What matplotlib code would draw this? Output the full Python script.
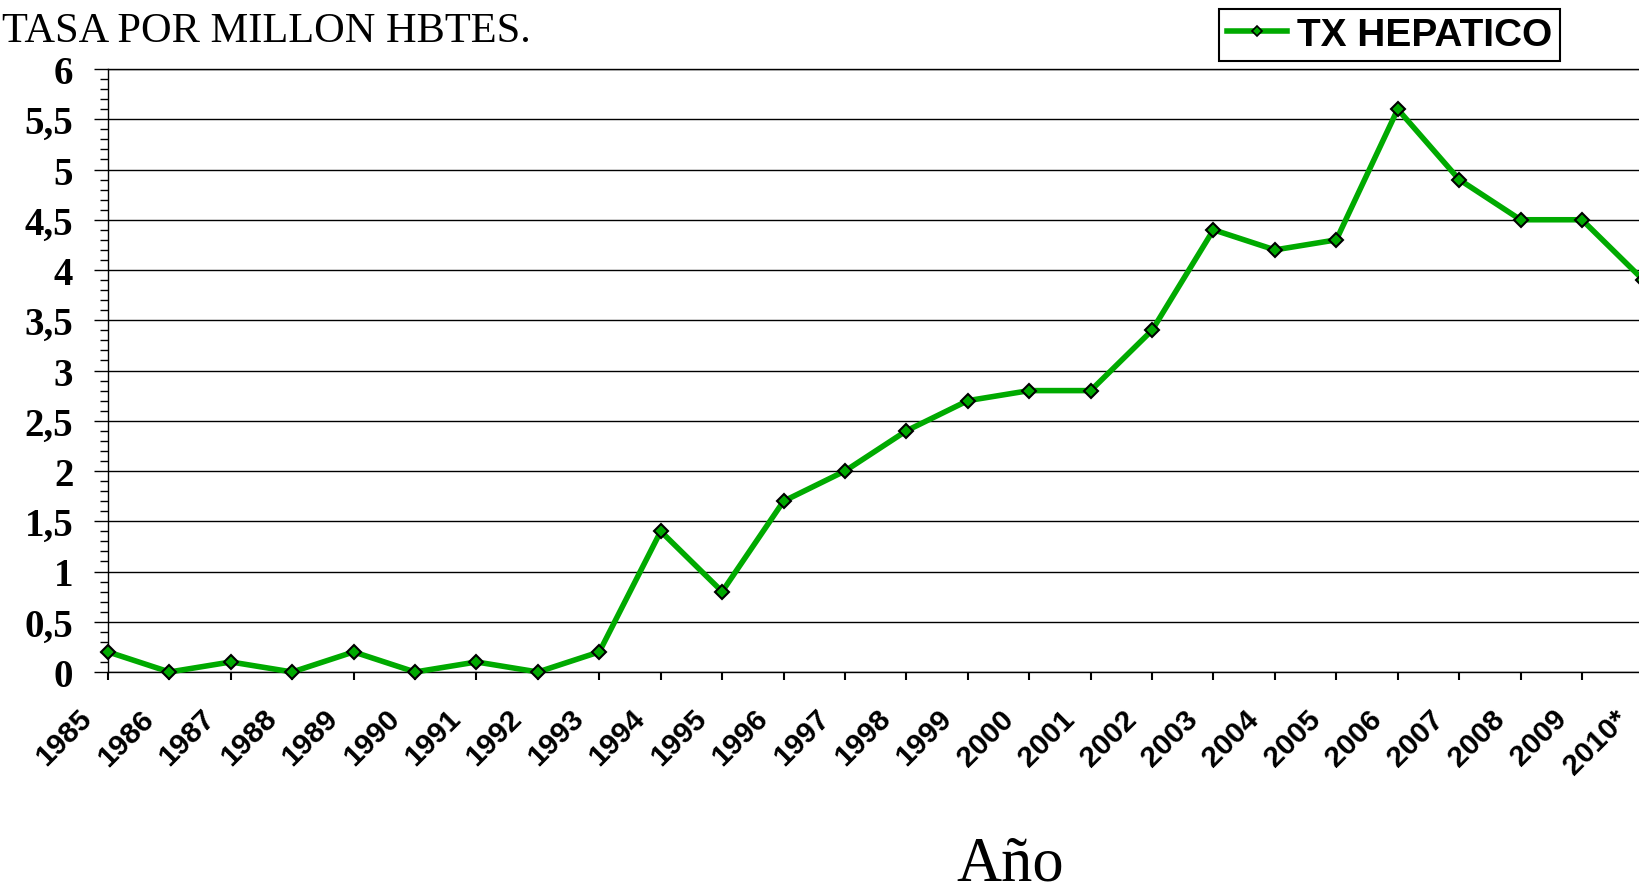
import matplotlib
matplotlib.use('Agg')
import matplotlib.pyplot as plt
from matplotlib.lines import Line2D
from matplotlib.transforms import ScaledTranslation
import numpy as np

# Data
years = list(range(1985, 2011))
year_labels = [str(y) for y in years[:-1]] + ['2010*']
tasa = [0.2, 0.0, 0.1, 0.0, 0.2, 0.0, 0.1, 0.0, 0.2, 1.4,
        0.8, 1.7, 2.0, 2.4, 2.7, 2.8, 2.8, 3.4, 4.4, 4.2,
        4.3, 5.6, 4.9, 4.5, 4.5, 3.9]
y_ticks = [0, 0.5, 1, 1.5, 2, 2.5, 3, 3.5, 4, 4.5, 5, 5.5, 6]
y_labels = [f'{v:g}'.replace('.', ',') for v in y_ticks]

GREEN = '#00aa00'
W, H = 1639, 887

fig = plt.figure(figsize=(W / 100, H / 100), dpi=100)
# axes runs a little past the right edge of the figure (2010 point is cut off)
ax = fig.add_axes([108 / W, 214 / H, (1643.4 - 108) / W, 603 / H])

ax.plot(years, tasa, color=GREEN, lw=4, marker='D', ms=7,
        mfc=GREEN, mec='black', mew=1.5, clip_on=False, zorder=3)

ax.set_xlim(1985, 2010)
ax.set_ylim(0, 6)

# y axis
ax.set_yticks(y_ticks)
ax.set_yticklabels(y_labels, fontsize=28, fontweight='bold', family='Liberation Serif')
ax.set_yticks(np.arange(0, 6.01, 0.1), minor=True)
ax.tick_params(axis='y', which='major', length=10, width=1, direction='out', pad=15)
ax.tick_params(axis='y', which='minor', length=6, width=1, direction='out')

# x axis
ax.set_xticks(years)
ax.set_xticklabels(year_labels, rotation=45, ha='right', va='top',
                   rotation_mode='anchor', fontsize=21.5, fontweight='bold',
                   family='Liberation Sans')
ax.tick_params(axis='x', which='major', length=6, width=1.5, direction='out', pad=17)
offset = ScaledTranslation(-30 / 100, 0, fig.dpi_scale_trans)
for lbl in ax.get_xticklabels():
    lbl.set_transform(lbl.get_transform() + offset)

ax.grid(axis='y', which='major', color='black', lw=1)
ax.set_axisbelow(True)
for side in ['left', 'bottom', 'top']:
    ax.spines[side].set_color('black')
    ax.spines[side].set_linewidth(1)
ax.spines['right'].set_visible(False)

# texts
fig.text(0.001, 1 - 42 / H, 'TASA POR MILLON HBTES.', family='Liberation Serif',
         fontsize=30.5, ha='left', va='baseline')
fig.text(1010 / W, 6 / H, 'Año', family='Liberation Serif', fontsize=45,
         ha='center', va='baseline')

handle = Line2D([], [], color=GREEN, lw=4, marker='D', ms=5,
                mfc=GREEN, mec='black', mew=1.2)
leg = fig.legend([handle], ['TX HEPATICO'], loc='upper right',
                 bbox_to_anchor=(1560 / W, 1 - 10 / H), bbox_transform=fig.transFigure,
                 prop={'family': 'Liberation Sans', 'weight': 'bold', 'size': 28},
                 frameon=True, fancybox=False, edgecolor='black', framealpha=1,
                 borderpad=0.2, handlelength=1.55, handletextpad=0.25, borderaxespad=0)
leg.get_frame().set_linewidth(1.5)

plt.savefig('out.png', dpi=100)
